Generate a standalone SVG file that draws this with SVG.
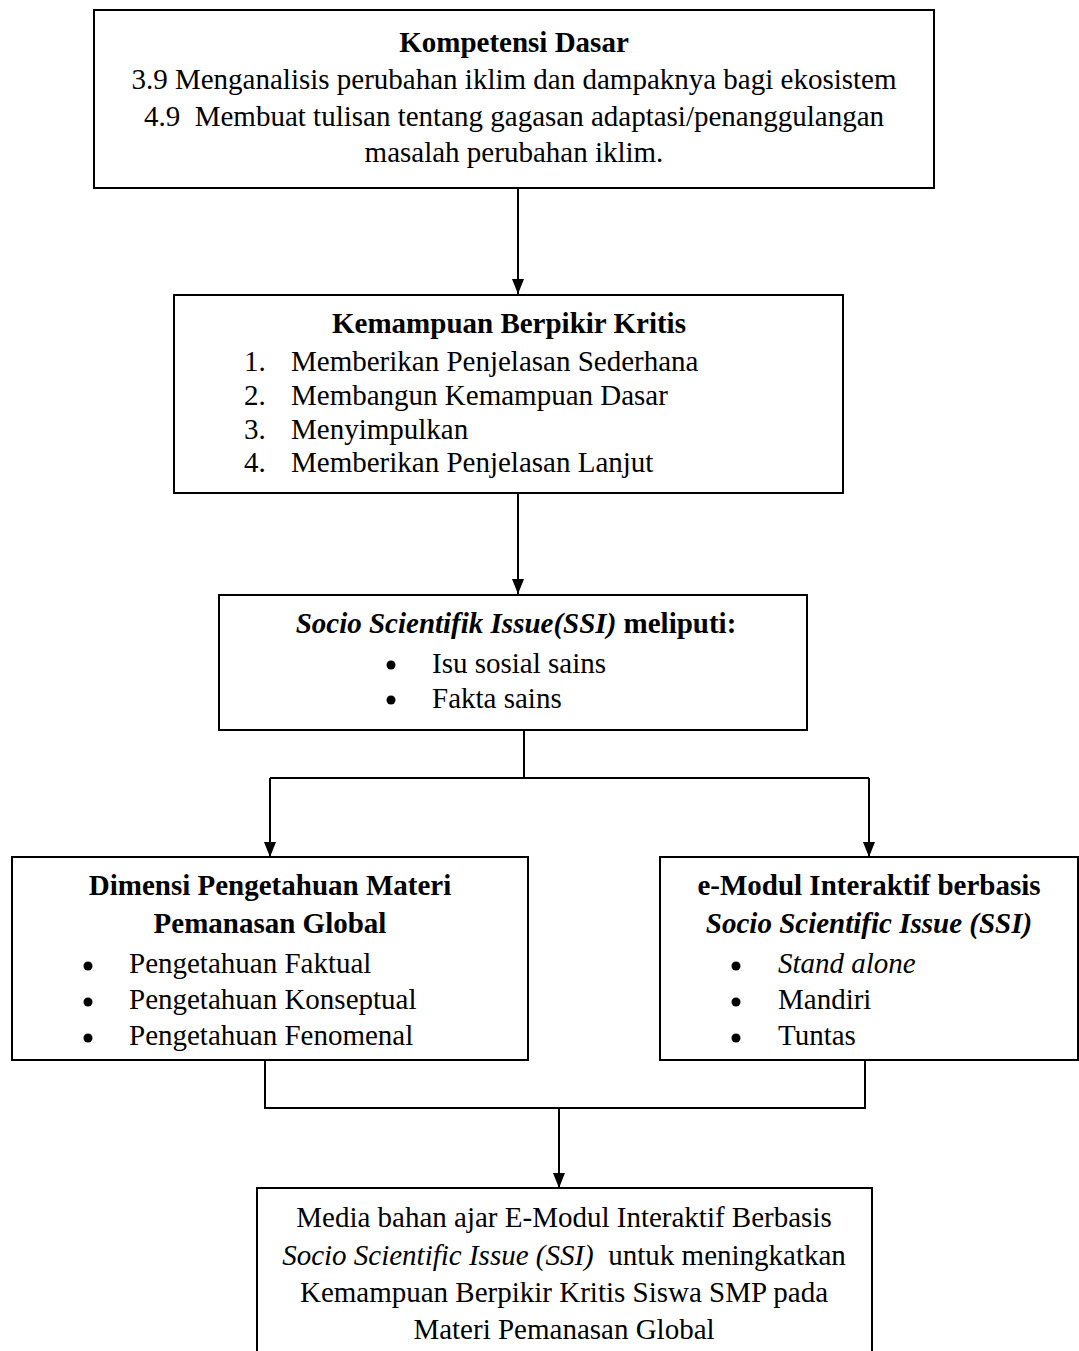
<svg xmlns="http://www.w3.org/2000/svg" width="1079" height="1351" viewBox="0 0 1079 1351">
<style>
  .box { fill: #fff; stroke: #000; stroke-width: 2; }
  .t { font-family: "Liberation Serif", "Times New Roman", serif; font-size: 29px; fill: #000; }
  .c { text-anchor: middle; }
  .b { font-weight: bold; }
  .i { font-style: italic; }
  .ln { fill: none; stroke: #000; stroke-width: 2; }
</style>
<defs>
  <marker id="ah" viewBox="0 0 15 12" refX="15" refY="6" markerWidth="15" markerHeight="12" markerUnits="userSpaceOnUse" orient="auto">
    <path d="M0,0 L15,6 L0,12 z" fill="#000"/>
  </marker>
</defs>
<rect width="1079" height="1351" fill="#fff"/>

<g id="connectors">
  <path class="ln" d="M518,188 V294" marker-end="url(#ah)"/>
  <path class="ln" d="M518,493 V594" marker-end="url(#ah)"/>
  <path class="ln" d="M524,730 V778"/>
  <path class="ln" d="M270,778 H869"/>
  <path class="ln" d="M270,778 V857" marker-end="url(#ah)"/>
  <path class="ln" d="M869,778 V857" marker-end="url(#ah)"/>
  <path class="ln" d="M265,1060 V1108 H865 V1060"/>
  <path class="ln" d="M559,1108 V1188" marker-end="url(#ah)"/>
</g>

<g id="kompetensi">
  <rect class="box" x="94" y="10" width="840" height="178"/>
  <text class="t c b" x="514" y="52">Kompetensi Dasar</text>
  <text class="t c" x="514" y="89">3.9 Menganalisis perubahan iklim dan dampaknya bagi ekosistem</text>
  <text class="t c" x="514" y="126" xml:space="preserve">4.9  Membuat tulisan tentang gagasan adaptasi/penanggulangan</text>
  <text class="t c" x="514" y="162">masalah perubahan iklim.</text>
</g>

<g id="berpikir-kritis">
  <rect class="box" x="174" y="295" width="669" height="198"/>
  <text class="t c b" x="509" y="333">Kemampuan Berpikir Kritis</text>
  <text class="t" x="244" y="371">1.</text>
  <text class="t" x="291" y="371">Memberikan Penjelasan Sederhana</text>
  <text class="t" x="244" y="405">2.</text>
  <text class="t" x="291" y="405">Membangun Kemampuan Dasar</text>
  <text class="t" x="244" y="439">3.</text>
  <text class="t" x="291" y="439">Menyimpulkan</text>
  <text class="t" x="244" y="472">4.</text>
  <text class="t" x="291" y="472">Memberikan Penjelasan Lanjut</text>
</g>

<g id="ssi">
  <rect class="box" x="219" y="595" width="588" height="135"/>
  <text class="t c b" x="516" y="633"><tspan class="i">Socio Scientifik Issue(SSI)</tspan> meliputi:</text>
  <circle cx="391" cy="665" r="4.5"/>
  <text class="t" x="432" y="673">Isu sosial sains</text>
  <circle cx="391" cy="700" r="4.5"/>
  <text class="t" x="432" y="708">Fakta sains</text>
</g>

<g id="dimensi">
  <rect class="box" x="12" y="857" width="516" height="203"/>
  <text class="t c b" x="270" y="895">Dimensi Pengetahuan Materi</text>
  <text class="t c b" x="270" y="933">Pemanasan Global</text>
  <circle cx="88" cy="966" r="4.5"/>
  <text class="t" x="129" y="973">Pengetahuan Faktual</text>
  <circle cx="88" cy="1002" r="4.5"/>
  <text class="t" x="129" y="1009">Pengetahuan Konseptual</text>
  <circle cx="88" cy="1038" r="4.5"/>
  <text class="t" x="129" y="1045">Pengetahuan Fenomenal</text>
</g>

<g id="emodul">
  <rect class="box" x="660" y="857" width="418" height="203"/>
  <text class="t c b" x="869" y="895">e-Modul Interaktif berbasis</text>
  <text class="t c b i" x="869" y="933">Socio Scientific Issue (SSI)</text>
  <circle cx="736" cy="966" r="4.5"/>
  <text class="t i" x="778" y="973">Stand alone</text>
  <circle cx="736" cy="1002" r="4.5"/>
  <text class="t" x="778" y="1009">Mandiri</text>
  <circle cx="736" cy="1038" r="4.5"/>
  <text class="t" x="778" y="1045">Tuntas</text>
</g>

<g id="media">
  <path class="box" d="M257,1352 V1188 H872 V1352"/>
  <text class="t c" x="564" y="1227">Media bahan ajar E-Modul Interaktif Berbasis</text>
  <text class="t c" x="564" y="1265" xml:space="preserve"><tspan class="i">Socio Scientific Issue (SSI)</tspan>  untuk meningkatkan</text>
  <text class="t c" x="564" y="1302">Kemampuan Berpikir Kritis Siswa SMP pada</text>
  <text class="t c" x="564" y="1339">Materi Pemanasan Global</text>
</g>
</svg>
